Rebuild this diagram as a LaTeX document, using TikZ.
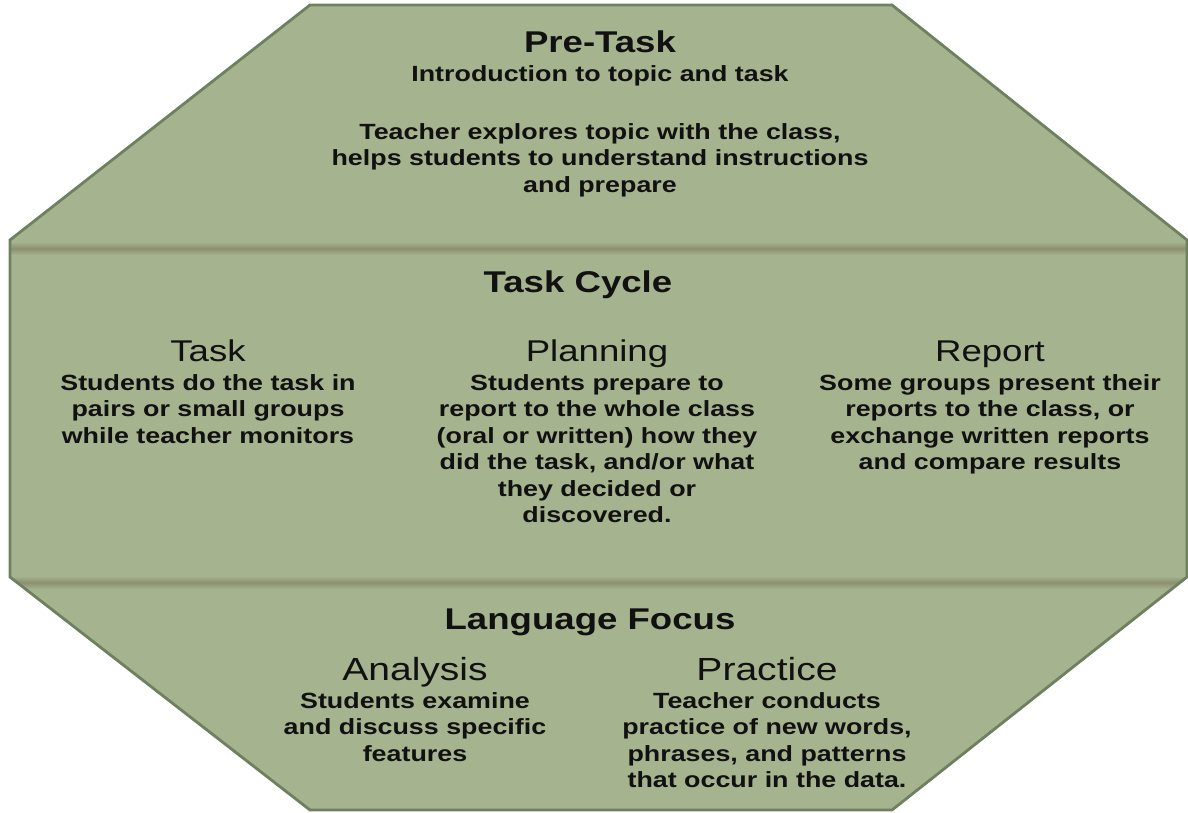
\documentclass[tikz,border=0pt]{standalone}
\usepackage{fontspec}
\setmainfont{Liberation Sans}[FakeStretch=1.22]
\definecolor{sage}{HTML}{A5B38E}
\definecolor{sageedge}{HTML}{6F8060}
\definecolor{bandshade}{HTML}{8C8F70}
\definecolor{ink}{HTML}{111111}
\tikzset{
  titletext/.style={font=\fontsize{30}{34}\selectfont\bfseries, inner sep=0pt, text=ink, anchor=base},
  headtext/.style={font=\fontsize{30}{34}\selectfont, inner sep=0pt, text=ink, anchor=base},
  headbig/.style={font=\fontsize{32}{36}\selectfont, inner sep=0pt, text=ink, anchor=base},
  bodytext/.style={font=\fontsize{22}{26.5}\selectfont\bfseries, align=center, inner sep=0pt, text=ink, anchor=north},
  bodyline/.style={font=\fontsize{22}{26.5}\selectfont\bfseries, inner sep=0pt, text=ink, anchor=base},
}
\begin{document}
\begin{tikzpicture}[x=1pt,y=-1pt]
\useasboundingbox (0,0) rectangle (1188,812);
% octagon body
\fill[sage] (310,5) -- (892,5) -- (1187,240) -- (1187,577) -- (892,810) -- (310,810) -- (10,577) -- (10,240) -- cycle;
% divider bands, kept inside the octagon
\begin{scope}
  \clip (310,5) -- (892,5) -- (1187,240) -- (1187,577) -- (892,810) -- (310,810) -- (10,577) -- (10,240) -- cycle;
  \shade[top color=sage, bottom color=sage, middle color=bandshade] (11,242) rectangle (1186,255);
  \shade[top color=sage, bottom color=sage, middle color=bandshade] (11,576) rectangle (1186,589);
\end{scope}
% border
\draw[sageedge, line width=2.8pt, line join=miter] (310,5) -- (892,5) -- (1187,240) -- (1187,577) -- (892,810) -- (310,810) -- (10,577) -- (10,240) -- cycle;

% Pre-Task
\node[titletext] (pretask) at (600,52) {Pre-Task};
\node[bodyline] (intro) at (600,81) {Introduction to topic and task};
\node[bodytext] (pretaskbody) at (600,123) {Teacher explores topic with the class,\\helps students to understand instructions\\and prepare};

% Task cycle
\node[titletext] (taskcycle) at (578,292) {Task Cycle};
\node[headtext] (taskhead) at (208,361) {Task};
\node[headtext] (planhead) at (597,361) {Planning};
\node[headtext] (reporthead) at (990,361) {Report};
\node[bodytext] (taskbody) at (208,374) {Students do the task in\\pairs or small groups\\while teacher monitors};
\node[bodytext] (planbody) at (597,374) {Students prepare to\\report to the whole class\\(oral or written) how they\\did the task, and/or what\\they decided or\\discovered.};
\node[bodytext] (reportbody) at (990,374) {Some groups present their\\reports to the class, or\\exchange written reports\\and compare results};

% Language focus
\node[titletext] (langfocus) at (590,629) {Language Focus};
\node[headbig] (anahead) at (415,680) {Analysis};
\node[headbig] (prachead) at (767,680) {Practice};
\node[bodytext] (anabody) at (415,692) {Students examine\\and discuss specific\\features};
\node[bodytext] (pracbody) at (767,692) {Teacher conducts\\practice of new words,\\phrases, and patterns\\that occur in the data.};
\end{tikzpicture}
\end{document}
